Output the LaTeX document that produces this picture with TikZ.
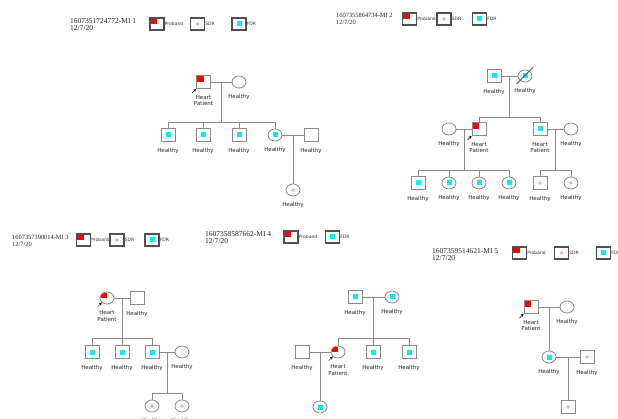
\documentclass[tikz,border=0pt]{standalone}
\usepackage{fontspec}
\setmainfont{Liberation Serif}
\newfontfamily\dejavu{DejaVu Sans}
\usetikzlibrary{calc,shapes.geometric,arrows.meta}
\definecolor{pedgray}{HTML}{8A8A8A}
\definecolor{leggray}{HTML}{505050}
\definecolor{probred}{HTML}{FF0000}
\definecolor{fdrcyan}{HTML}{00F0F8}
\definecolor{sdrpink}{HTML}{FFA8A8}

\begin{document}
\begin{tikzpicture}[x=1pt,y=-1pt,
  ped/.style={draw=pedgray, line width=0.8pt},
  male/.style={ped, rectangle, minimum width=14, minimum height=13, inner sep=0pt},
  female/.style={ped, ellipse, minimum width=14, minimum height=12, inner sep=0pt},
  fdr/.style={path picture={\fill[fdrcyan] ([shift={(-2.5,-2.5)}]path picture bounding box.center) rectangle ([shift={(2.5,2.5)}]path picture bounding box.center);}},
  sdr/.style={path picture={\fill[sdrpink] (path picture bounding box.center) circle (1.8);}},
  proband/.style={path picture={\fill[probred] ([shift={(0.9,0.9)}]path picture bounding box.north west) rectangle (path picture bounding box.center);}},
  lbl/.style={font=\dejavu\fontsize{5.5}{6.5}\selectfont, text=black!85, inner sep=0pt, align=center, anchor=north, yshift=-6pt},
  hl/.style={label={[lbl]below:Healthy}},
  hp/.style={label={[lbl]below:{Heart\\Patient}}},
  probarrow/.style={-{Stealth[length=3pt,width=3pt]}, black, line width=0.4pt},
  hdr/.style={font=\fontsize{7.5}{7}\selectfont, anchor=north west, align=left, inner sep=0pt, text=black!85},
  hdrsmall/.style={hdr, font=\fontsize{6.4}{6.6}\selectfont},
  legbox/.style={draw=leggray, line width=1.2pt, minimum width=14, minimum height=12, inner sep=0pt, label distance=3pt},
  legtxt/.style={font=\dejavu\fontsize{4.5}{5}\selectfont, text=black!80, inner sep=0pt, anchor=west}]

\useasboundingbox[fill=white] (0,0) rectangle (618,419);

% family 1
\node[hdr] (hd1) at (70,18.5) {1607351724772-MI 1\\12/7/20};
\node[legbox, proband, label={[legtxt]right:Proband}] (lp1) at (157,24) {};
\node[legbox, sdr, label={[legtxt]right:SDR}] (ls1) at (197.5,24) {};
\node[legbox, fdr, label={[legtxt]right:FDR}] (lf1) at (239,24) {};

\node[male, proband, hp] (pb1) at (203.5,82) {};
\node[female, hl] (w1) at (239,82) {};
\node[male, fdr, hl] (c11) at (168,135) {};
\node[male, fdr, hl] (c12) at (203,135) {};
\node[male, fdr, hl] (c13) at (239,135) {};
\node[female, fdr, hl] (c14) at (275,135) {};
\node[male, hl] (s11) at (311,135) {};
\node[female, sdr, hl] (g11) at (293,190) {};
\draw[probarrow] ($(pb1.south west)+(-4,4)$) -- (pb1.south west);

\coordinate (sib1) at (0,122);
\path ($(pb1)!.5!(w1)$) coordinate (m1) ($(c14)!.5!(s11)$) coordinate (m14);
\draw[ped] (pb1) -- (w1);
\draw[ped] (m1) -- (m1 |- sib1);
\draw[ped] (c11) -- (c11 |- sib1) -- (c14 |- sib1) -- (c14);
\foreach \c in {c12,c13} \draw[ped] (\c) -- (\c |- sib1);
\draw[ped] (c14) -- (s11);
\draw[ped] (m14) -- (g11);

% family 2
\node[hdrsmall] (hd2) at (336,13) {1607355864734-MI 2\\12/7/20};
\node[legbox, proband, label={[legtxt]right:Proband}] (lp2) at (409.5,19) {};
\node[legbox, sdr, label={[legtxt]right:SDR}] (ls2) at (444,19) {};
\node[legbox, fdr, label={[legtxt]right:FDR}] (lf2) at (479.5,19) {};

\node[male, fdr, hl] (gf2) at (494,76) {};
\node[female, fdr, hl] (gm2) at (525,76) {};
\draw[pedgray!60!black, line width=0.8pt] ($(gm2)+(-8.5,8)$) -- ($(gm2)+(8,-8.5)$);
\node[female, hl] (w2) at (449,129) {};
\node[male, proband, hp] (pb2) at (479,129) {};
\node[male, fdr, hp] (b2) at (540,129) {};
\node[female, hl] (bw2) at (571,129) {};
\draw[probarrow] ($(pb2.south west)+(-4,4)$) -- (pb2.south west);
\node[male, fdr, hl] (c21) at (418,183) {};
\node[female, fdr, hl] (c22) at (449,183) {};
\node[female, fdr, hl] (c23) at (479,183) {};
\node[female, fdr, hl] (c24) at (509,183) {};
\node[male, sdr, hl] (c25) at (540,183) {};
\node[female, sdr, hl] (c26) at (571,183) {};

\coordinate (sib2) at (0,117);
\coordinate (sib2a) at (0,170);
\path ($(gf2)!.5!(gm2)$) coordinate (m2) ($(w2)!.5!(pb2)$) coordinate (m2a) ($(b2)!.5!(bw2)$) coordinate (m2b);
\draw[ped] (gf2) -- (gm2);
\draw[ped] (m2) -- (m2 |- sib2);
\draw[ped] (pb2) -- (pb2 |- sib2) -- (b2 |- sib2) -- (b2);
\draw[ped] (w2) -- (pb2);
\draw[ped] (b2) -- (bw2);
\draw[ped] (m2a) -- (m2a |- sib2a);
\draw[ped] (c21) -- (c21 |- sib2a) -- (c24 |- sib2a) -- (c24);
\foreach \c in {c22,c23} \draw[ped] (\c) -- (\c |- sib2a);
\draw[ped] (m2b) -- (m2b |- sib2a);
\draw[ped] (c25) -- (c25 |- sib2a) -- (c26 |- sib2a) -- (c26);

% family 3
\node[hdrsmall] (hd3) at (12,235) {1607357390014-MI 3\\12/7/20};
\node[legbox, proband, label={[legtxt]right:Proband}] (lp3) at (83.5,240) {};
\node[legbox, sdr, label={[legtxt]right:SDR}] (ls3) at (117,240) {};
\node[legbox, fdr, label={[legtxt]right:FDR}] (lf3) at (152,240) {};

\node[female, proband, hp] (pb3) at (107,298) {};
\node[male, hl] (h3) at (137,298) {};
\draw[probarrow] ($(pb3.south west)+(-4,4)$) -- (pb3.south west);
\node[male, fdr, hl] (c31) at (92,352) {};
\node[male, fdr, hl] (c32) at (122,352) {};
\node[male, fdr, hl] (c33) at (152,352) {};
\node[female, hl] (w3) at (182,352) {};
\node[female, sdr, hl] (g31) at (152,406) {};
\node[female, sdr, hl] (g32) at (182,406) {};

\coordinate (sib3) at (0,338);
\coordinate (sib3a) at (0,393);
\path ($(pb3)!.5!(h3)$) coordinate (m3) ($(c33)!.5!(w3)$) coordinate (m3a);
\draw[ped] (pb3) -- (h3);
\draw[ped] (m3) -- (m3 |- sib3);
\draw[ped] (c31) -- (c31 |- sib3) -- (c33 |- sib3) -- (c33);
\draw[ped] (c32) -- (c32 |- sib3);
\draw[ped] (c33) -- (w3);
\draw[ped] (m3a) -- (m3a |- sib3a);
\draw[ped] (g31) -- (g31 |- sib3a) -- (g32 |- sib3a) -- (g32);

% family 4
\node[hdr] (hd4) at (205,231.5) {1607358587662-MI 4\\12/7/20};
\node[legbox, proband, label={[legtxt]right:Proband}] (lp4) at (291,237) {};
\node[legbox, fdr, label={[legtxt]right:FDR}] (lf4) at (332.5,237) {};

\node[male, fdr, hl] (gf4) at (355,297) {};
\node[female, fdr, hl] (gm4) at (392,297) {};
\node[male, hl] (h4) at (302,352) {};
\node[female, proband, hp] (pb4) at (338,352) {};
\node[male, fdr, hl] (c42) at (373,352) {};
\node[male, fdr, hl] (c43) at (409,352) {};
\node[female, fdr, hl] (g41) at (320,407) {};
\draw[probarrow] ($(pb4.south west)+(-4,4)$) -- (pb4.south west);

\coordinate (sib4) at (0,338);
\path ($(gf4)!.5!(gm4)$) coordinate (m4) ($(h4)!.5!(pb4)$) coordinate (m4a);
\draw[ped] (gf4) -- (gm4);
\draw[ped] (m4) -- (m4 |- sib4);
\draw[ped] (pb4) -- (pb4 |- sib4) -- (c43 |- sib4) -- (c43);
\draw[ped] (c42) -- (c42 |- sib4);
\draw[ped] (h4) -- (pb4);
\draw[ped] (m4a) -- (g41);

% family 5
\node[hdr] (hd5) at (432,248.5) {1607359514621-MI 5\\12/7/20};
\node[legbox, proband, label={[legtxt]right:Proband}] (lp5) at (519.5,253) {};
\node[legbox, sdr, label={[legtxt]right:SDR}] (ls5) at (561.5,253) {};
\node[legbox, fdr, label={[legtxt]right:FDR}] (lf5) at (603.5,253) {};

\node[male, proband, hp] (pb5) at (531,307) {};
\node[female, hl] (w5) at (567,307) {};
\node[female, fdr, hl] (d5) at (549,357) {};
\node[male, sdr, hl] (s5) at (587,357) {};
\node[male, sdr, hl] (g51) at (568,407) {};
\draw[probarrow] ($(pb5.south west)+(-4,4)$) -- (pb5.south west);

\path ($(pb5)!.5!(w5)$) coordinate (m5) ($(d5)!.5!(s5)$) coordinate (m5a);
\draw[ped] (pb5) -- (w5);
\draw[ped] (m5) -- (d5);
\draw[ped] (d5) -- (s5);
\draw[ped] (m5a) -- (g51);
\end{tikzpicture}
\end{document}
